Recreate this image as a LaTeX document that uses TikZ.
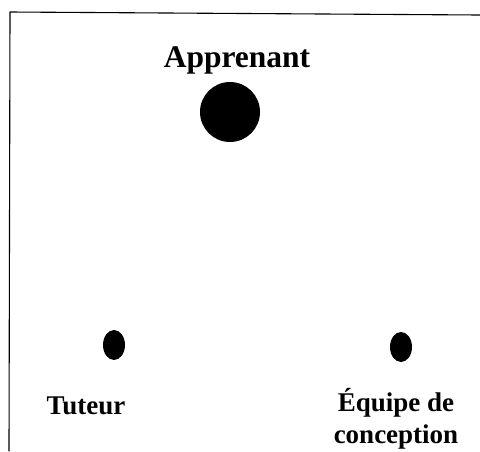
\documentclass[tikz,border=0pt]{standalone}
\usepackage{fontspec}
\setmainfont{Liberation Serif}
\usetikzlibrary{shapes.geometric}

\begin{document}
\begin{tikzpicture}[x=1pt, y=-1pt, line join=round, line cap=round]

\useasboundingbox (0,0) rectangle (480,451);

% frame (only left and top edges are visible)
\coordinate (fbl) at (9,451);
\coordinate (ftl) at (10,12);
\coordinate (ftr) at (480,15);
\draw[line width=1.1pt] (fbl) -- (ftl) -- (ftr);

% Actors
\node[circle, fill=black, inner sep=0pt, minimum size=60] (apprenant) at (230,112) {};
\node[ellipse, fill=black, inner sep=0pt, minimum width=22, minimum height=30] (tuteur) at (114,345) {};
\node[ellipse, fill=black, inner sep=0pt, minimum width=22, minimum height=30] (equipe) at (401,347) {};

% Labels
\node[anchor=base, inner sep=0pt, font=\bfseries\fontsize{31.5}{34}\selectfont] (lapprenant) at (237,67) {Apprenant};
\node[anchor=base, inner sep=0pt, font=\bfseries\fontsize{27}{34}\selectfont] (ltuteur) at (86,414) {Tuteur};
\node[anchor=base, inner sep=0pt, align=center, font=\bfseries\fontsize{27}{32}\selectfont] (lequipe) at (396,443) {Équipe de\\conception};

\end{tikzpicture}
\end{document}
